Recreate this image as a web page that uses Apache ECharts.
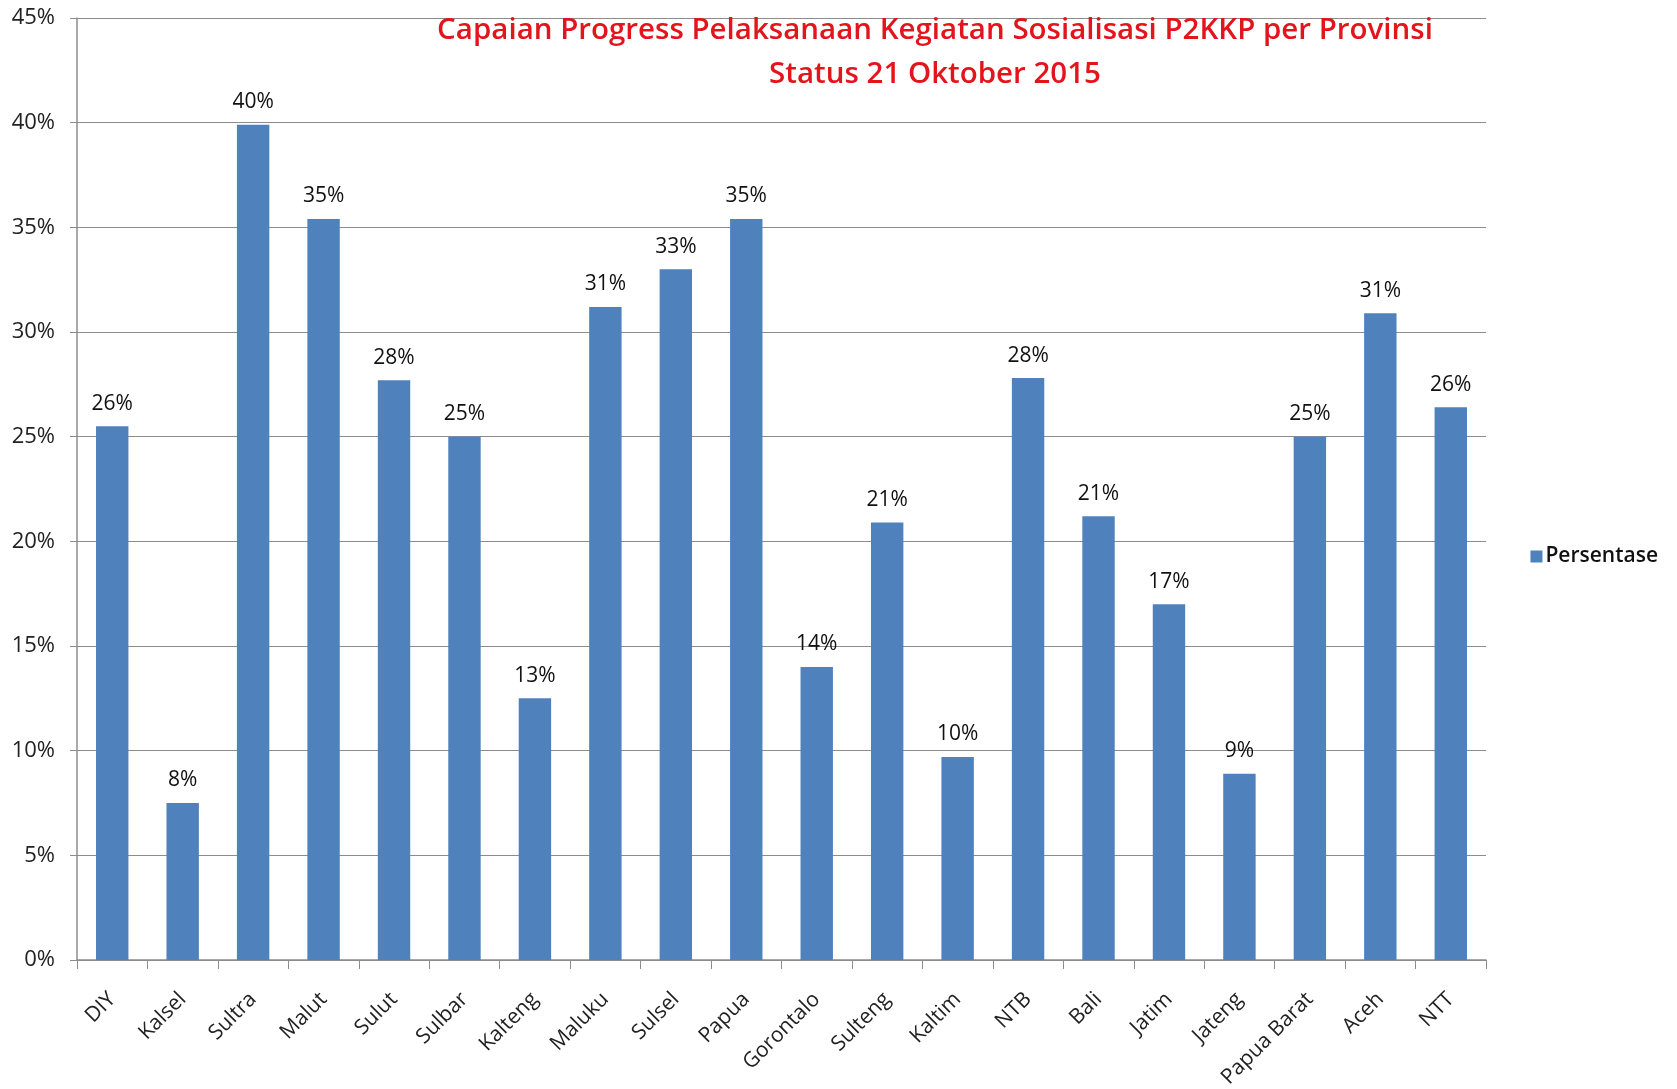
<!DOCTYPE html>
<html>
<head>
<meta charset="utf-8">
<script src="https://cdn.jsdelivr.net/npm/echarts@6/dist/echarts.min.js"></script>
<style>
  html, body { margin: 0; padding: 0; background: #fff; }
  #chart { width: 1677px; height: 1089px; }
</style>
</head>
<body>
<div id="chart"></div>
<script>
const provinsi = ['DIY', 'Kalsel', 'Sultra', 'Malut', 'Sulut', 'Sulbar', 'Kalteng', 'Maluku', 'Sulsel', 'Papua',
  'Gorontalo', 'Sulteng', 'Kaltim', 'NTB', 'Bali', 'Jatim', 'Jateng', 'Papua Barat', 'Aceh', 'NTT'];
const persentase = [25.5, 7.5, 39.9, 35.4, 27.7, 25.0, 12.5, 31.2, 33.0, 35.4,
  14.0, 20.9, 9.7, 27.8, 21.2, 17.0, 8.9, 25.0, 30.9, 26.4];
const judul = 'Capaian Progress Pelaksanaan Kegiatan Sosialisasi P2KKP per Provinsi';
const subJudul = 'Status 21 Oktober 2015';

const chart = echarts.init(document.getElementById('chart'));
const fontUtama = '"Open Sans", "Noto Sans", sans-serif';

const option = {
  backgroundColor: '#fff',
  title: {
    text: judul + '\n' + subJudul,
    left: 930,
    top: 4,
    textAlign: 'center',
    textStyle: {
      color: '#e3141c',
      fontFamily: fontUtama,
      fontWeight: 600,
      fontSize: 29.5,
      lineHeight: 44
    }
  },
  legend: {
    right: 14,
    top: 541,
    orient: 'vertical',
    itemWidth: 12,
    itemHeight: 12,
    itemGap: 6,
    icon: 'rect',
    data: ['Persentase'],
    textStyle: { color: '#111', fontSize: 21, fontWeight: 600, fontFamily: fontUtama, padding: [0, 0, 0, -2] }
  },
  grid: {
    left: 77,
    right: 191,
    top: 18,
    bottom: 129,
    containLabel: false,
    outerBoundsMode: 'none'
  },
  xAxis: {
    type: 'category',
    data: provinsi,
    axisLine: { lineStyle: { color: '#8c8c8c', width: 1.5 } },
    axisTick: { show: true, length: 9, alignWithLabel: false, lineStyle: { color: '#8c8c8c' } },
    axisLabel: {
      rotate: 45,
      interval: 0,
      margin: 36,
      color: '#222',
      fontSize: 21,
      fontFamily: fontUtama
    }
  },
  yAxis: {
    type: 'value',
    min: 0,
    max: 45,
    interval: 5,
    axisLine: { show: true, lineStyle: { color: '#8c8c8c', width: 1.5 } },
    axisTick: { show: true, length: 7, lineStyle: { color: '#8c8c8c' } },
    axisLabel: {
      formatter: '{value}%',
      margin: 22,
      color: '#222',
      fontSize: 22,
      fontFamily: fontUtama
    },
    splitLine: { lineStyle: { color: '#8c8c8c', width: 1.2 } }
  },
  series: [{
    name: 'Persentase',
    type: 'bar',
    data: persentase,
    barCategoryGap: '54%',
    itemStyle: { color: '#4f81bd' },
    label: {
      show: true,
      position: 'top',
      distance: 12,
      color: '#111',
      fontSize: 21,
      fontFamily: fontUtama,
      formatter: p => Math.round(p.value) + '%'
    }
  }]
};

chart.setOption(option);
</script>
</body>
</html>
